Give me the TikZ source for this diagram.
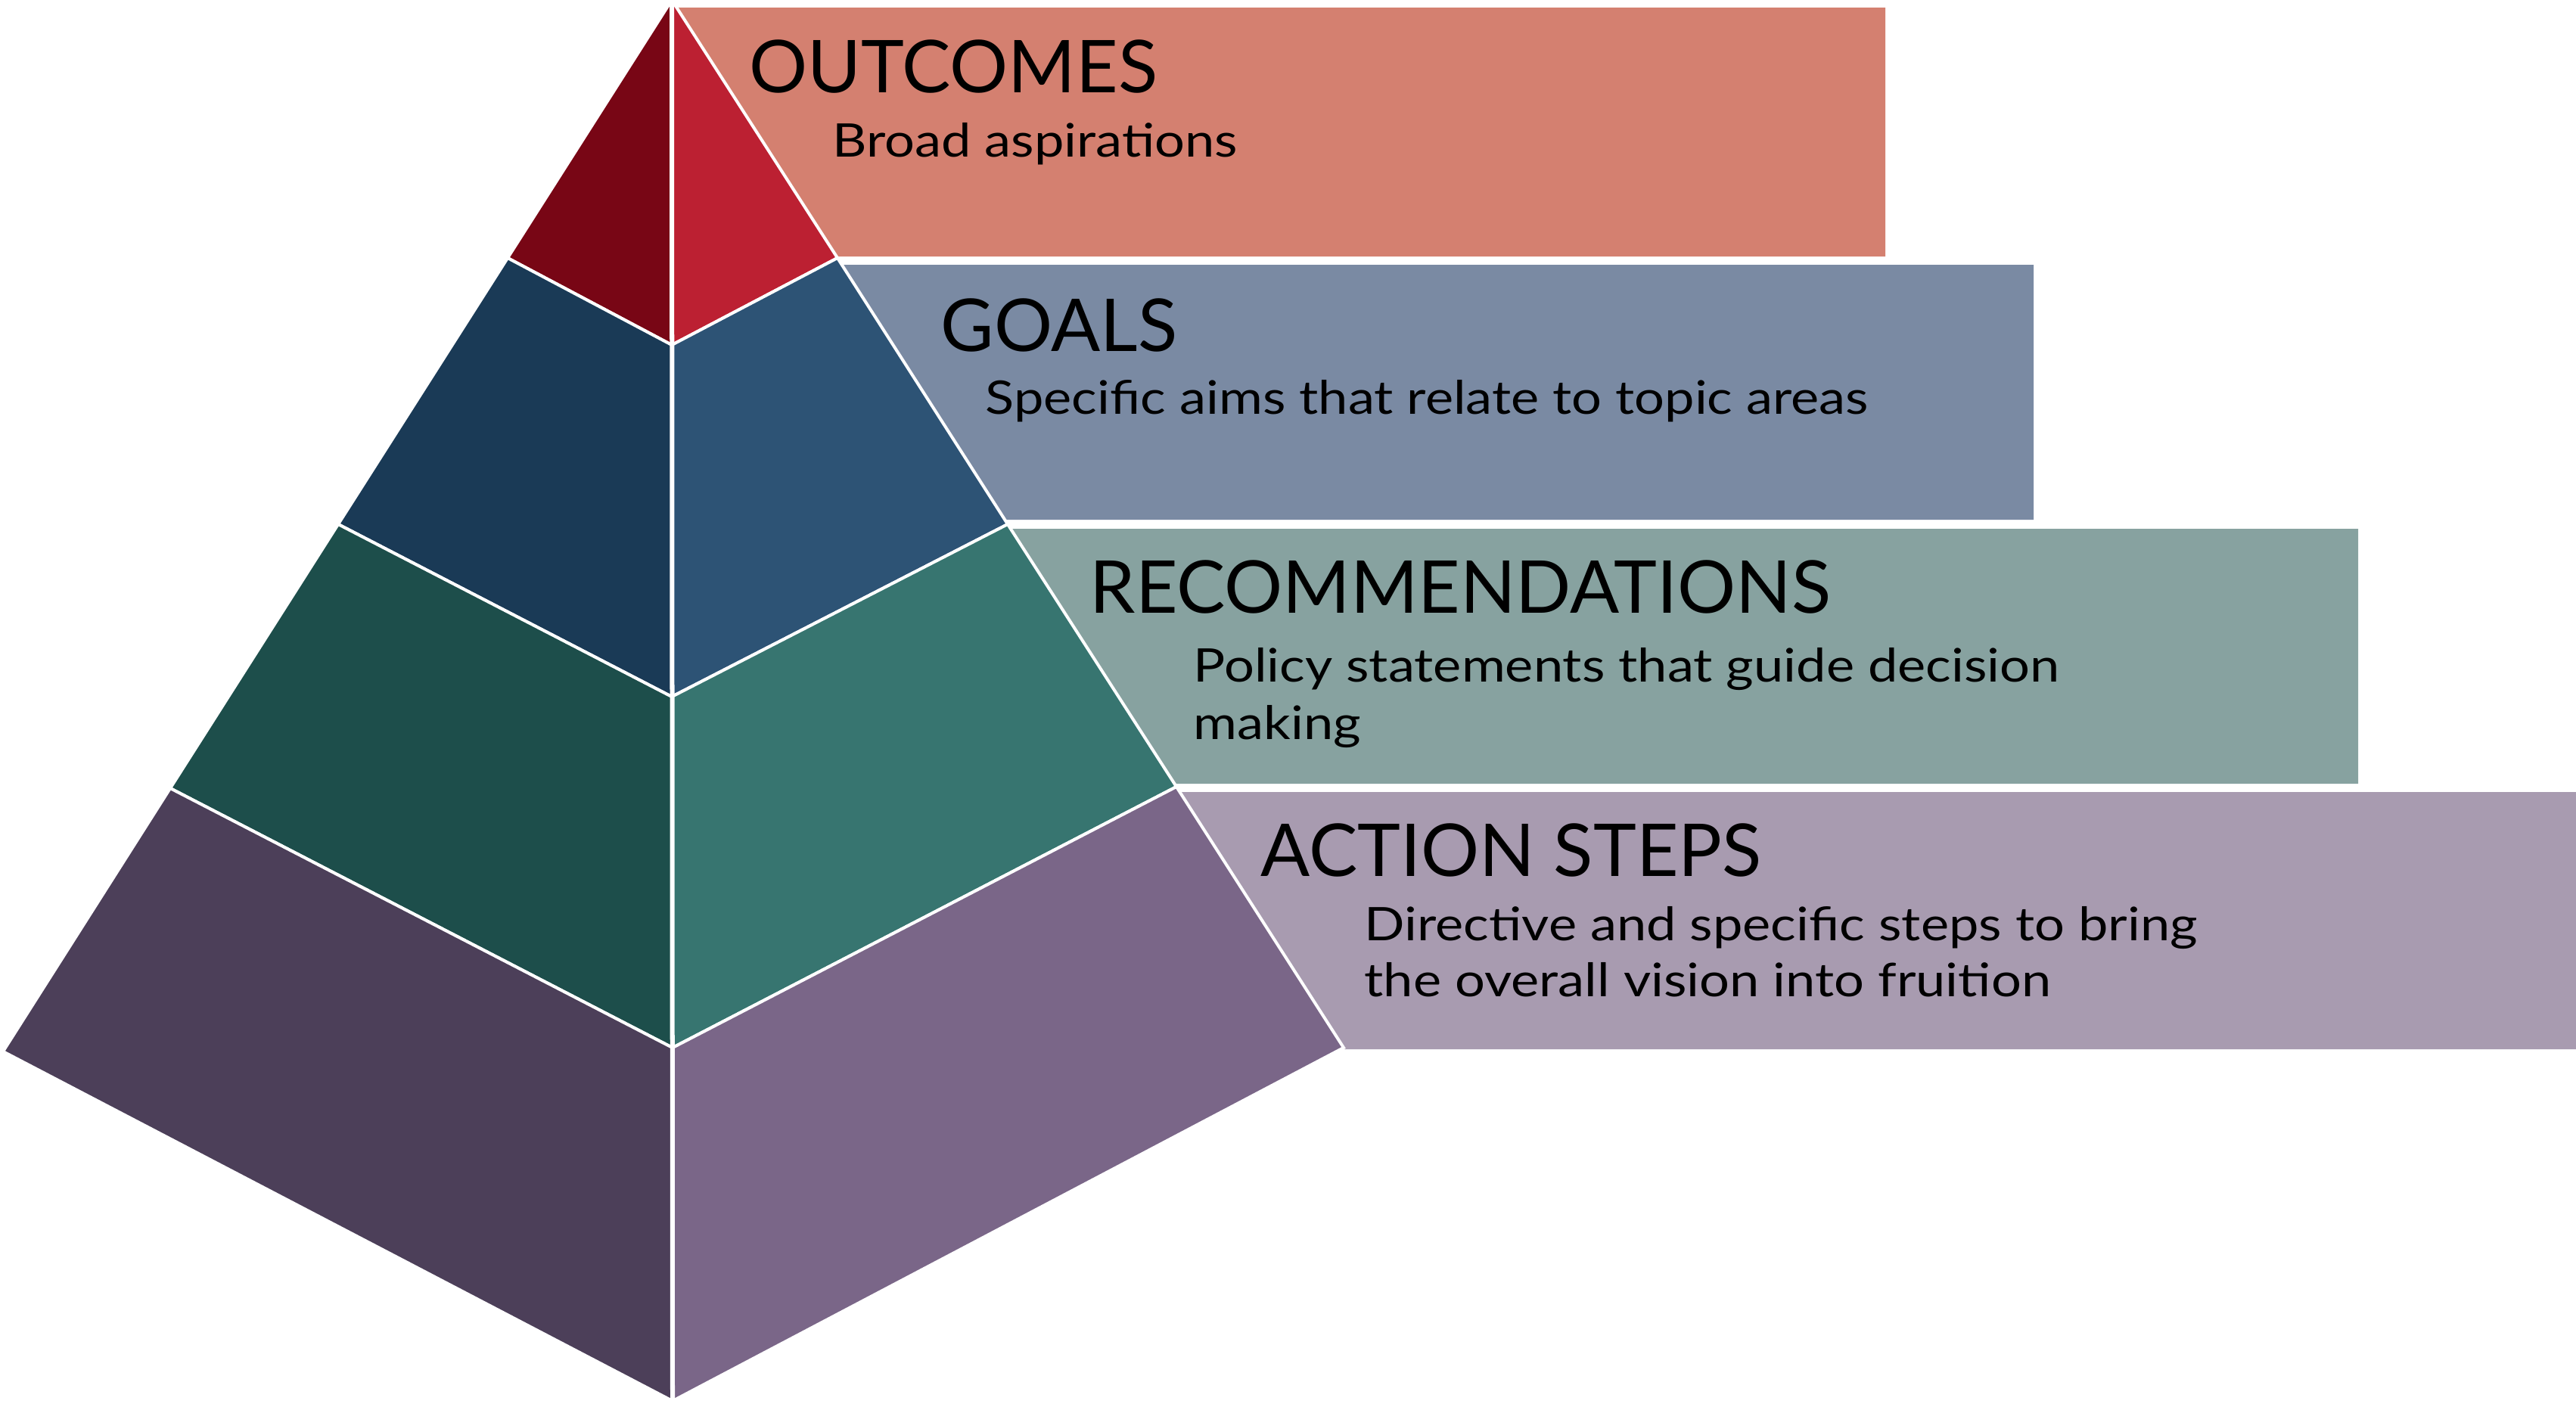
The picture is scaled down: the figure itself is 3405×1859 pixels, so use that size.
\documentclass[tikz,border=0pt]{standalone}
\usepackage{fontspec}
\setmainfont{Lato}
\newfontfamily\subfont{Lato}[FakeStretch=1.15]
\definecolor{cOut}{HTML}{D48070}
\definecolor{cGoal}{HTML}{7A8AA3}
\definecolor{cRec}{HTML}{87A2A0}
\definecolor{cAct}{HTML}{A89BB0}
\definecolor{lA}{HTML}{780615}
\definecolor{rA}{HTML}{BC2032}
\definecolor{lB}{HTML}{1A3A56}
\definecolor{rB}{HTML}{2D5375}
\definecolor{lC}{HTML}{1D4E4B}
\definecolor{rC}{HTML}{377570}
\definecolor{lD}{HTML}{4C3F59}
\definecolor{rD}{HTML}{7A6688}
\begin{document}
\begin{tikzpicture}[x=0.01cm,y=-0.01cm,
  face/.style={draw=white, line width=0.04cm, line join=miter},
  title/.style={anchor=base west, inner sep=0pt, text=black, font=\fontsize{27.4}{33}\selectfont},
  sub/.style={anchor=base west, inner sep=0pt, text=black, font=\subfont\fontsize{17.4}{21}\selectfont}]
\useasboundingbox (0,0) rectangle (3405,1859);
% bands
\fill[cOut]  (894.4,10)   -- (2492,10)   -- (2492,339)  -- (1105.4,339)  -- cycle;
\fill[cGoal] (1112.4,350) -- (2688,350)  -- (2688,687)  -- (1328.5,687)  -- cycle;
\fill[cRec]  (1336.2,699) -- (3117,699)  -- (3117,1036) -- (1552.3,1036) -- cycle;
\fill[cAct]  (1559.3,1047)-- (3405,1047) -- (3405,1387) -- (1777.3,1387) -- cycle;
% pyramid points
\coordinate (A) at (888,0);
\coordinate (L1) at (671,341);  \coordinate (C1) at (888,456);  \coordinate (R1) at (1107,341);
\coordinate (L2) at (447,693);  \coordinate (C2) at (888,921);  \coordinate (R2) at (1332,693);
\coordinate (L3) at (225,1042); \coordinate (C3) at (889,1385); \coordinate (R3) at (1555,1040);
\coordinate (L4) at (4,1390);   \coordinate (C4) at (889,1852); \coordinate (R4) at (1776,1385);
% faces
\filldraw[face, fill=lA] (A) -- (L1) -- (C1) -- cycle;
\filldraw[face, fill=rA] (A) -- (C1) -- (R1) -- cycle;
\filldraw[face, fill=lB] (L1) -- (L2) -- (C2) -- (C1) -- cycle;
\filldraw[face, fill=rB] (C1) -- (C2) -- (R2) -- (R1) -- cycle;
\filldraw[face, fill=lC] (L2) -- (L3) -- (C3) -- (C2) -- cycle;
\filldraw[face, fill=rC] (C2) -- (C3) -- (R3) -- (R2) -- cycle;
\filldraw[face, fill=lD] (L3) -- (L4) -- (C4) -- (C3) -- cycle;
\filldraw[face, fill=rD] (C3) -- (C4) -- (R4) -- (R3) -- cycle;
\draw[white, line width=0.06cm] (A) -- (C4);
% texts
\node[title] (t1) at (990,122) {OUTCOMES};
\node[sub] (s1) at (1100,207) {Broad aspirations};
\node[title] (t2) at (1243,464) {GOALS};
\node[sub] (s2) at (1302,547) {Specific aims that relate to topic areas};
\node[title] (t3) at (1440,810) {RECOMMENDATIONS};
\node[sub] (s3) at (1577,901) {Policy statements that guide decision};
\node[sub] (s3b) at (1577,977) {making};
\node[title] (t4) at (1666,1158) {ACTION STEPS};
\node[sub] (s4) at (1803,1243) {Directive and specific steps to bring};
\node[sub] (s4b) at (1803,1317) {the overall vision into fruition};
\end{tikzpicture}
\end{document}
